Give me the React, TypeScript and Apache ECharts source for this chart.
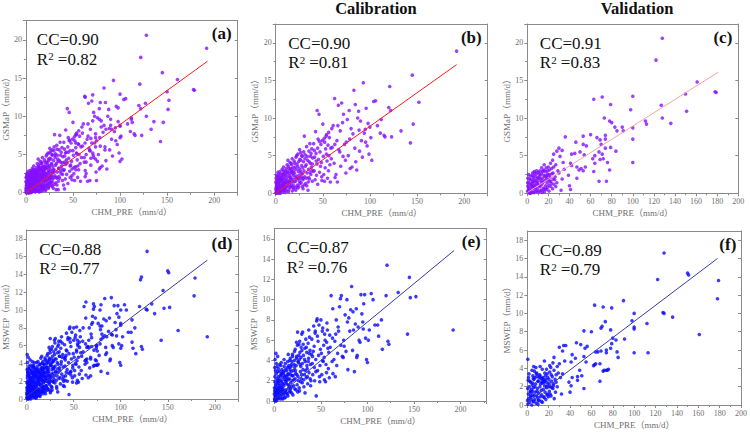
import { useEffect, useRef } from "react";
import * as echarts from "echarts";

// Daily precipitation samples: [CHM_PRE, GSMaP, MSWEP] in mm/d
type Row = [number, number, number];

const calibration: Row[] = [
  [0.3, 0.1, 0.2], [0.5, 0.4, 0.1], [0.8, 0.0, 0.5], [1.0, 0.7, 0.3], [1.2, 1.2, 0.8], [1.5, 0.2, 1.1],
  [1.8, 0.9, 0.0], [2.0, 1.6, 0.6], [2.2, 0.5, 1.4], [2.5, 1.1, 0.9], [2.8, 0.1, 0.4], [3.0, 1.9, 1.7],
  [3.2, 0.8, 2.0], [3.5, 1.4, 0.2], [3.8, 0.3, 1.2], [4.0, 2.2, 0.7], [4.2, 1.0, 1.8], [4.5, 0.6, 2.4],
  [4.8, 1.7, 1.0], [5.0, 0.0, 0.3], [5.2, 2.6, 1.5], [5.5, 1.3, 2.2], [5.8, 0.4, 0.8], [6.0, 1.8, 2.9],
  [0.2, 1.5, 1.3], [0.6, 0.9, 1.9], [1.4, 1.8, 1.6], [2.6, 2.1, 2.2], [3.4, 0.0, 0.9], [0.1, 0.6, 0.7],
  [1.1, 0.3, 0.0], [4.6, 0.2, 1.3], [0.4, 2.0, 1.0], [2.4, 1.3, 0.1],
  [0.7, 1.3, 2.4], [1.3, 0.5, 3.0], [1.6, 2.3, 0.4], [2.1, 0.2, 2.7], [2.9, 1.5, 3.4], [3.3, 2.5, 1.1],
  [3.7, 0.6, 2.9], [4.1, 1.6, 0.5], [4.4, 2.9, 3.2], [4.9, 0.9, 2.0], [5.3, 1.9, 0.6], [5.7, 0.3, 3.6],
  [0.9, 2.4, 4.1], [1.7, 1.0, 4.7], [2.3, 2.8, 3.7], [0.5, 0.0, 3.3], [3.6, 2.0, 4.4],
  [6.3, 0.7, 1.1], [6.6, 2.3, 0.5], [7.0, 1.1, 1.9], [7.3, 0.2, 2.6], [7.6, 1.6, 0.9], [7.9, 3.0, 1.4],
  [8.2, 0.9, 3.1], [8.5, 2.0, 0.3], [8.8, 0.4, 1.7], [9.1, 1.4, 2.3], [9.4, 2.7, 1.2], [9.7, 0.1, 0.6],
  [10.0, 1.8, 2.8], [10.3, 0.6, 1.5], [10.6, 2.4, 3.4], [10.9, 1.2, 0.8], [11.2, 3.3, 2.1], [11.5, 0.3, 1.0],
  [11.8, 1.9, 3.7], [12.0, 2.9, 0.4], [6.9, 1.7, 3.5], [8.0, 2.6, 2.0], [9.0, 0.8, 0.2], [11.0, 1.5, 2.5],
  [6.1, 2.1, 1.6], [6.5, 1.0, 0.2], [6.8, 3.2, 2.5], [7.2, 0.6, 1.3], [7.5, 2.5, 3.8], [7.8, 1.3, 0.7],
  [8.3, 3.5, 2.7], [8.7, 1.1, 1.1], [9.2, 2.2, 0.9], [9.6, 0.5, 2.9], [10.1, 3.0, 1.7], [10.5, 1.4, 4.1],
  [11.1, 2.6, 0.3], [11.6, 0.9, 2.4],
  [12.4, 0.9, 2.0], [12.8, 2.2, 1.1], [13.2, 1.4, 3.0], [13.6, 3.6, 2.4], [14.0, 0.5, 0.7], [14.4, 2.6, 3.9],
  [14.8, 1.7, 1.6], [15.2, 3.1, 2.7], [15.6, 0.8, 1.3], [16.0, 2.0, 3.3], [16.4, 4.0, 2.2], [16.8, 1.2, 0.9],
  [17.2, 2.9, 4.2], [17.6, 0.3, 1.8], [18.0, 1.9, 2.9], [18.4, 3.4, 3.6], [18.8, 2.4, 1.4], [19.2, 1.0, 2.5],
  [19.6, 4.3, 4.4], [20.0, 2.7, 0.6], [13.0, 4.4, 1.7], [15.0, 2.3, 4.6], [17.0, 3.8, 3.1], [19.0, 0.6, 3.9],
  [14.2, 1.1, 2.6], [16.6, 2.8, 1.0],
  [12.1, 3.8, 3.1], [12.6, 1.6, 1.9], [13.1, 2.8, 0.8], [13.5, 0.2, 2.2], [14.1, 3.3, 3.3], [14.6, 1.5, 0.5],
  [15.1, 4.1, 2.1], [15.5, 2.1, 3.5], [16.1, 0.9, 1.5], [16.5, 3.3, 4.0], [17.1, 1.6, 2.6], [17.5, 4.6, 1.2],
  [18.1, 2.6, 3.4], [18.6, 0.8, 0.8], [19.1, 3.0, 2.0], [19.5, 1.5, 4.6],
  [20.5, 3.5, 3.0], [21.0, 1.6, 2.1], [21.5, 4.8, 4.0], [22.0, 2.3, 1.2], [22.5, 3.9, 5.1], [23.0, 1.1, 2.7],
  [23.5, 5.2, 3.5], [24.0, 2.9, 4.4], [24.5, 0.9, 1.6], [25.0, 3.3, 6.8], [25.5, 4.5, 2.4], [26.0, 2.0, 3.8],
  [26.5, 5.4, 5.6], [27.0, 1.4, 1.0], [27.5, 3.7, 4.8], [28.0, 4.9, 2.9], [28.5, 2.6, 3.4], [29.0, 0.6, 2.2],
  [29.5, 4.2, 6.6], [30.0, 3.0, 1.8], [21.8, 0.8, 3.3], [23.8, 2.0, 5.8], [26.8, 2.7, 4.1], [28.8, 1.8, 5.3],
  [25.2, 1.6, 0.9],
  [20.2, 4.0, 2.5], [20.8, 2.1, 1.5], [21.3, 0.4, 3.6], [21.7, 3.2, 4.9], [22.3, 5.0, 2.2], [22.7, 1.9, 3.0],
  [23.3, 3.6, 1.1], [23.7, 0.7, 4.2], [24.3, 4.2, 2.6], [24.8, 2.4, 5.5], [25.4, 5.8, 3.9], [25.8, 1.3, 2.0],
  [26.3, 3.0, 4.5], [26.7, 4.4, 1.3], [27.3, 2.2, 5.9], [27.8, 5.0, 3.6], [28.3, 0.9, 1.9], [28.7, 3.4, 4.3],
  [29.3, 2.0, 2.6], [29.7, 5.5, 5.0],
  [30.4, 7.6, 6.8], [30.8, 2.2, 3.1], [31.3, 5.1, 4.5], [31.8, 1.3, 1.4], [32.3, 3.8, 2.6], [32.8, 6.2, 5.2],
  [33.3, 2.7, 3.9], [33.8, 4.4, 6.1], [34.3, 0.4, 2.3], [34.8, 3.2, 4.8], [35.3, 5.6, 3.2], [35.8, 1.9, 1.7],
  [36.3, 6.6, 5.7], [36.8, 4.0, 4.2], [37.3, 2.5, 2.8], [37.8, 3.5, 6.3], [38.3, 5.9, 5.0], [38.8, 1.6, 3.6],
  [39.3, 4.7, 2.0], [39.8, 2.9, 4.6], [31.0, 4.6, 5.6], [33.0, 1.0, 0.8], [35.0, 2.1, 3.5], [37.0, 4.9, 7.0],
  [39.0, 3.9, 1.5],
  [30.2, 1.1, 3.7], [31.5, 3.6, 2.1], [32.5, 2.0, 4.1], [33.5, 4.9, 3.0], [34.5, 1.5, 5.3], [35.5, 4.2, 2.4],
  [36.5, 2.8, 3.9], [37.5, 5.3, 4.7], [38.5, 3.1, 2.2],
  [40.3, 6.6, 6.1], [40.8, 3.0, 3.7], [41.3, 4.8, 2.6], [41.8, 1.8, 4.9], [42.3, 8.2, 7.4], [42.8, 5.3, 5.4],
  [43.3, 2.4, 2.0], [43.8, 3.9, 6.7], [44.0, 11.0, 6.9], [44.5, 6.0, 4.1], [45.0, 7.2, 0.5], [45.5, 4.5, 7.9],
  [46.0, 10.5, 8.1], [46.5, 2.8, 3.0], [47.0, 5.5, 5.9], [47.5, 3.6, 4.5], [48.0, 6.5, 7.5], [48.5, 4.1, 2.4],
  [49.0, 1.7, 3.5], [49.5, 7.0, 5.1], [41.0, 5.7, 4.4], [43.0, 4.3, 3.3], [46.3, 6.9, 6.4], [48.8, 2.2, 1.9],
  [44.6, 1.2, 2.9],
  [50.0, 9.2, 8.0], [50.5, 4.9, 4.7], [51.0, 2.5, 2.6], [51.5, 7.3, 6.9], [52.0, 6.8, 7.2], [52.5, 3.4, 3.9],
  [53.0, 5.9, 5.5], [53.5, 7.6, 4.3], [54.0, 7.8, 6.6], [54.5, 4.3, 6.0], [55.0, 2.0, 1.9], [55.5, 6.4, 3.6],
  [56.0, 3.0, 2.8], [56.5, 5.0, 7.7], [57.0, 7.4, 7.0], [57.5, 3.8, 5.2], [58.0, 1.5, 3.2], [58.5, 6.0, 4.8],
  [59.0, 4.6, 2.3], [59.5, 8.6, 6.5], [51.8, 1.6, 4.0], [53.8, 5.2, 2.1], [56.2, 8.1, 5.8],
  [60.0, 6.1, 5.3], [61.0, 9.0, 10.4], [62.0, 4.0, 3.9], [62.5, 12.6, 6.2], [63.0, 2.1, 2.7], [64.0, 2.5, 4.1],
  [65.0, 7.0, 5.9], [66.0, 9.0, 6.6], [67.0, 5.8, 3.5], [68.0, 5.5, 4.7], [69.0, 3.6, 6.9], [70.0, 12.0, 9.3],
  [71.0, 9.4, 10.1], [72.0, 10.5, 10.4], [73.0, 6.5, 4.4], [74.0, 4.4, 4.3], [75.0, 6.8, 5.4], [76.0, 9.8, 8.5],
  [77.0, 5.0, 4.9], [78.0, 11.0, 10.0], [78.5, 7.2, 7.8], [79.0, 3.3, 3.1], [65.5, 1.5, 2.4], [68.5, 8.3, 7.3],
  [71.5, 4.9, 5.5], [74.5, 2.7, 6.0], [62.8, 6.5, 9.1], [66.5, 11.7, 8.0],
  [80.0, 8.6, 8.2], [81.0, 3.5, 6.9], [82.0, 7.9, 9.0], [83.0, 13.7, 11.3], [84.0, 6.0, 5.0], [85.0, 4.2, 7.0],
  [86.0, 3.1, 2.9], [87.0, 10.0, 7.6], [88.0, 10.9, 9.1], [89.0, 5.6, 4.5], [90.0, 9.6, 7.3], [91.0, 7.0, 6.0],
  [92.0, 4.8, 5.8], [93.0, 14.7, 10.5], [94.0, 8.0, 8.6], [95.0, 8.5, 7.8], [96.0, 11.3, 9.6], [97.0, 6.3, 10.5],
  [98.0, 9.3, 6.2], [99.0, 5.2, 4.1], [100.0, 8.8, 3.8], [101.0, 7.4, 6.0], [102.0, 4.4, 7.0], [104.0, 12.2, 10.6],
  [106.0, 12.3, 10.0], [108.0, 9.0, 7.5], [84.5, 11.8, 8.8], [88.5, 8.4, 4.3], [95.5, 6.8, 7.1],
  [111.0, 8.0, 7.5], [112.0, 9.8, 6.4], [115.0, 7.7, 8.0], [116.0, 7.5, 5.1], [120.0, 11.4, 10.4],
  [121.0, 14.2, 13.4], [122.0, 11.0, 5.9], [123.0, 7.5, 5.6], [133.0, 8.3, 10.7], [143.0, 6.7, 6.6],
  [145.0, 15.7, 12.2], [146.0, 9.2, 10.2], [152.0, 12.1, 10.3], [192.0, 18.9, 7.0],
];

const validation: Row[] = [
  [128, 20.6, 16.6], [122, 17.7, 13.7], [179, 13.4, 13.6], [178, 13.5, 11.6], [161, 14.8, 7.7],
  [150, 13.2, 14.4], [151, 10.9, 14.2], [127, 11.7, 10.1], [128, 10.0, 10.0], [136, 9.3, 9.6],
  [112, 9.6, 8.9], [113, 9.2, 5.7], [100, 12.9, 10.0], [100, 8.7, 8.3], [100, 7.2, 8.5], [100, 4.1, 5.7],
  [98, 11.1, 9.2], [90, 8.8, 11.4], [71, 12.8, 10.7], [63, 12.5, 10.9], [79, 11.8, 10.6], [73, 10.0, 9.1],
  [78, 9.6, 8.2], [80, 9.4, 7.3], [83, 8.8, 7.1], [85, 8.3, 5.2], [91, 8.3, 7.2], [60, 7.8, 8.0],
  [53, 7.6, 8.1], [66, 7.4, 5.8], [74, 7.7, 6.0], [74, 7.2, 5.7], [36, 7.5, 6.5], [70, 6.5, 8.6],
  [69, 7.1, 8.4], [79, 6.1, 6.7], [84, 5.6, 5.8], [74, 6.0, 3.8], [68, 5.5, 4.5], [71, 5.2, 3.7],
  [64, 5.0, 5.8], [62, 4.6, 4.3], [69, 4.5, 5.9], [72, 4.6, 3.8], [76, 4.1, 3.9], [64, 4.0, 4.5],
  [78, 3.1, 6.2], [75, 1.6, 3.8], [68, 1.6, 2.6], [63, 2.9, 4.4], [55, 3.5, 4.7], [51, 3.3, 3.2],
  [47, 2.0, 3.1], [54, 5.1, 6.2], [56, 6.3, 6.4], [53, 6.5, 5.3], [46, 6.8, 6.8], [50, 5.5, 6.6],
  [45, 5.3, 5.1], [42, 5.2, 5.5], [41, 4.0, 4.7], [42, 3.7, 3.0], [47, 3.5, 2.7], [49, 3.1, 3.8],
  [39, 2.4, 2.5], [40, 1.0, 1.4], [41, 0.5, 2.1], [32, 0.4, 1.2], [33, 1.9, 3.4], [30, 2.7, 4.5],
  [35, 3.2, 4.8], [34, 4.1, 6.5], [33, 5.7, 5.9], [30, 6.0, 6.3], [28, 5.6, 4.2], [31, 4.9, 3.0],
  [25, 5.2, 5.2], [24, 4.4, 4.6], [25, 3.5, 3.8], [21, 3.1, 4.3], [22, 4.0, 4.1], [27, 3.8, 2.5],
  [18, 2.3, 2.0], [18, 3.4, 3.9], [16, 3.8, 4.8], [15, 3.0, 2.4], [12, 2.5, 3.2], [10, 2.1, 2.6],
  [7, 2.7, 3.0], [6, 1.5, 4.2], [53, 3.0, 1.8], [0.5, 2.0, 5.0],
  [0.2, 0.3, 0.5], [0.6, 1.0, 0.1], [1.0, 0.1, 1.2], [1.4, 1.5, 0.7], [1.8, 0.6, 2.0], [2.2, 0.0, 0.3],
  [2.6, 1.2, 1.5], [3.0, 0.4, 2.5], [3.4, 1.8, 0.9], [3.8, 0.9, 1.7], [4.2, 0.2, 0.0], [4.6, 1.4, 2.2],
  [5.0, 0.7, 1.1], [5.4, 2.2, 0.4], [5.8, 0.1, 1.9], [6.2, 1.1, 2.8], [6.6, 2.9, 3.7], [7.0, 0.5, 0.6],
  [7.4, 1.7, 1.4], [7.8, 0.8, 2.3], [8.2, 2.5, 0.2], [8.6, 0.3, 1.0], [9.0, 1.3, 3.1], [9.4, 2.0, 1.8],
  [9.8, 0.6, 0.8], [10.2, 1.6, 2.6], [10.6, 2.8, 1.3], [11.0, 0.2, 0.5], [11.4, 1.0, 3.3], [11.8, 2.3, 2.0],
  [12.2, 0.9, 0.9], [12.6, 1.9, 2.9], [13.0, 0.4, 1.6], [13.4, 2.6, 1.1], [13.8, 1.2, 2.4], [14.2, 0.1, 0.3],
  [14.6, 2.0, 3.0], [15.0, 1.5, 1.7], [15.4, 0.7, 2.7], [15.8, 2.4, 0.8], [16.2, 0.2, 2.1], [16.6, 1.7, 1.4],
  [17.0, 2.9, 3.2], [17.4, 1.0, 0.6], [17.8, 2.2, 2.5], [18.2, 0.5, 1.9], [18.6, 1.4, 3.4], [19.0, 2.6, 1.2],
  [19.4, 0.8, 2.2], [19.8, 1.8, 0.9], [20.2, 2.4, 2.8], [20.6, 0.3, 1.5], [21.0, 1.6, 3.6], [21.6, 2.1, 2.0],
  [22.2, 0.9, 1.0], [22.8, 1.3, 2.6], [23.4, 2.6, 3.1], [24.0, 0.6, 1.8], [24.6, 1.9, 2.3], [25.2, 1.2, 0.7],
  [1.2, 2.5, 3.0], [2.8, 2.3, 1.0], [4.4, 1.0, 3.8], [6.0, 1.9, 0.4], [8.0, 1.1, 4.1], [0.9, 0.8, 2.7],
  [3.2, 0.0, 1.4], [5.2, 1.6, 3.2], [12.0, 3.0, 4.2], [14.0, 1.4, 3.9], [16.0, 3.1, 2.6], [10.0, 2.7, 0.1],
  [20.0, 3.5, 2.0], [26.0, 1.8, 2.8], [27.0, 0.9, 3.3], [23.0, 3.3, 1.9],
  [0.4, 1.4, 1.8], [1.6, 0.4, 3.4], [2.4, 1.9, 2.6], [3.6, 1.2, 0.6], [4.8, 2.4, 1.5], [5.6, 0.9, 2.9],
  [6.4, 0.1, 1.0], [7.2, 2.2, 2.0], [8.4, 1.6, 3.4], [9.2, 0.2, 1.5], [10.4, 1.2, 0.5], [11.2, 2.0, 3.0],
  [12.4, 0.3, 2.3], [13.2, 1.6, 0.4], [14.4, 2.9, 2.9], [15.2, 0.5, 0.9], [16.4, 2.3, 3.5], [17.2, 0.6, 2.8],
  [18.4, 1.9, 1.1], [19.2, 3.0, 3.0], [20.4, 1.1, 2.4], [21.4, 2.5, 1.2], [22.4, 1.6, 3.3], [24.4, 2.7, 2.1],
  [26.4, 2.2, 1.4], [28.0, 1.4, 2.0], [29.0, 3.0, 3.5], [13.6, 3.4, 2.6], [8.8, 3.0, 3.5], [5.0, 2.7, 2.4],
];

const panelLabels = ["(a)", "(b)", "(c)", "(d)", "(e)", "(f)"];
const ccValues = ["0.90", "0.90", "0.91", "0.88", "0.87", "0.89"];
const r2Values = ["0.82", "0.81", "0.83", "0.77", "0.76", "0.79"];
// regression line end points per panel: [x0, y0, x1, y1]
const fitLines: [number, number, number, number][] = [
  [0, 0, 193, 17.2],
  [0, 0, 192, 17.1],
  [0, 0.1, 181, 16.1],
  [0, 0.3, 192, 15.6],
  [0, 0.2, 193, 14.85],
  [0, 0.3, 178, 16.0],
];
const columnTitles = ["Calibration", "Validation"];

const allRows = [...calibration, ...validation];

const VIOLET = "#8410ff";
const BLUE = "#0a0aff";
const AXIS = "#8a8a8a";
const LABEL = "#6e6e6e";
const SERIF = '"Liberation Serif", "Noto Sans CJK SC", serif';

type Panel = {
  left: number; top: number; width: number; height: number;
  xMax: number; xStep: number; yMax: number; yStep: number; yMinor: boolean;
  rows: Row[]; col: 1 | 2; name: string; color: string; lineColor: string; nameGap: number;
};

const panels: Panel[] = [
  { left: 24.3, top: 20.7, width: 213.4, height: 172, xMax: 225, xStep: 50, yMax: 22.5, yStep: 5, yMinor: true,
    rows: allRows, col: 1, name: "GSMaP（mm/d）", color: VIOLET, lineColor: "#ff1a1a", nameGap: 10 },
  { left: 275.7, top: 24, width: 212, height: 169.3, xMax: 225, xStep: 50, yMax: 22.5, yStep: 5, yMinor: true,
    rows: calibration, col: 1, name: "GSMaP（mm/d）", color: VIOLET, lineColor: "#ff1a1a", nameGap: 10 },
  { left: 527.3, top: 24, width: 211, height: 169.3, xMax: 200, xStep: 20, yMax: 22.5, yStep: 5, yMinor: true,
    rows: validation, col: 1, name: "GSMaP（mm/d）", color: VIOLET, lineColor: "#f6a4a4", nameGap: 10 },
  { left: 26.7, top: 230, width: 211.6, height: 169, xMax: 225, xStep: 50, yMax: 19, yStep: 2, yMinor: false,
    rows: allRows, col: 2, name: "MSWEP（mm/d）", color: BLUE, lineColor: "#3a3aa6", nameGap: 12 },
  { left: 274.3, top: 228.7, width: 212.4, height: 172.3, xMax: 228, xStep: 50, yMax: 17, yStep: 2, yMinor: false,
    rows: calibration, col: 2, name: "MSWEP（mm/d）", color: BLUE, lineColor: "#3a3aa6", nameGap: 12 },
  { left: 527.3, top: 231, width: 215, height: 174, xMax: 200, xStep: 20, yMax: 19, yStep: 2, yMinor: false,
    rows: validation, col: 2, name: "MSWEP（mm/d）", color: BLUE, lineColor: "#3a3aa6", nameGap: 12 },
];

function buildOption(): echarts.EChartsOption {
  const grid: any[] = [];
  const xAxis: any[] = [];
  const yAxis: any[] = [];
  const series: any[] = [];
  const graphic: any[] = [];

  panels.forEach((p, i) => {
    grid.push({ left: p.left, top: p.top, width: p.width, height: p.height, containLabel: false });
    const line = { show: true, onZero: false, lineStyle: { color: AXIS, width: 1 } };
    const labelStyle = { fontSize: 8, color: LABEL, fontFamily: SERIF };
    xAxis.push({
      gridIndex: i, type: "value", min: 0, max: p.xMax, interval: p.xStep, position: "bottom",
      axisLine: line,
      axisTick: { show: true, length: 3, lineStyle: { color: AXIS } },
      minorTick: { show: true, splitNumber: 2, length: 2, lineStyle: { color: AXIS } },
      splitLine: { show: false },
      axisLabel: { ...labelStyle, margin: 4, showMaxLabel: p.xMax % p.xStep === 0 },
      name: "CHM_PRE（mm/d）", nameLocation: "middle", nameGap: 15,
      nameTextStyle: { fontSize: 9, color: LABEL, fontFamily: SERIF },
    });
    xAxis.push({
      gridIndex: i, type: "value", min: 0, max: p.xMax, position: "top",
      axisLine: line, axisTick: { show: false }, axisLabel: { show: false }, splitLine: { show: false },
    });
    yAxis.push({
      gridIndex: i, type: "value", min: 0, max: p.yMax, interval: p.yStep, position: "left",
      axisLine: line,
      axisTick: { show: true, length: 3, lineStyle: { color: AXIS } },
      minorTick: { show: p.yMinor, splitNumber: 2, length: 2, lineStyle: { color: AXIS } },
      splitLine: { show: false },
      axisLabel: { ...labelStyle, margin: 4, showMaxLabel: false },
      name: p.name, nameLocation: "middle", nameGap: p.nameGap,
      nameTextStyle: { fontSize: 9, color: LABEL, fontFamily: SERIF },
    });
    yAxis.push({
      gridIndex: i, type: "value", min: 0, max: p.yMax, interval: p.yStep, position: "right",
      axisLine: line,
      axisTick: { show: true, inside: true, length: 3, lineStyle: { color: AXIS } },
      minorTick: { show: false },
      splitLine: { show: false }, axisLabel: { show: false },
    });

    series.push({
      type: "scatter", xAxisIndex: 2 * i, yAxisIndex: 2 * i, silent: true,
      symbol: "circle", symbolSize: 3.6,
      itemStyle: { color: p.color },
      data: p.rows.map((r) => [r[0], r[p.col]]),
    });
    const f = fitLines[i];
    series.push({
      type: "line", xAxisIndex: 2 * i, yAxisIndex: 2 * i, silent: true, symbol: "none",
      lineStyle: { color: p.lineColor, width: 1 }, z: 3,
      data: [[f[0], f[1]], [f[2], f[3]]],
    });

    const tx = p.left + 12.5;
    graphic.push({
      type: "text", x: tx, y: p.top + 10.5,
      style: { text: `CC=${ccValues[i]}`, fontSize: 17, fontFamily: SERIF, fill: "#111", verticalAlign: "top" },
    });
    graphic.push({
      type: "text", x: tx, y: p.top + 30,
      style: { text: "R", fontSize: 17, fontFamily: SERIF, fill: "#111", verticalAlign: "top" },
    });
    graphic.push({
      type: "text", x: tx + 11.5, y: p.top + 30,
      style: { text: "2", fontSize: 11, fontFamily: SERIF, fill: "#111", verticalAlign: "top" },
    });
    graphic.push({
      type: "text", x: tx + 21, y: p.top + 30,
      style: { text: `=${r2Values[i]}`, fontSize: 17, fontFamily: SERIF, fill: "#111", verticalAlign: "top" },
    });
    graphic.push({
      type: "text", x: p.left + p.width - 6, y: p.top + 4.5,
      style: {
        text: panelLabels[i], fontSize: 17, fontWeight: "bold", fontFamily: SERIF, fill: "#111",
        align: "right", verticalAlign: "top",
      },
    });
  });

  graphic.push({
    type: "text", x: 376, y: 0,
    style: { text: columnTitles[0], fontSize: 16.5, fontWeight: "bold", fontFamily: SERIF, fill: "#111", align: "center", verticalAlign: "top" },
  });
  graphic.push({
    type: "text", x: 637, y: 0,
    style: { text: columnTitles[1], fontSize: 16.5, fontWeight: "bold", fontFamily: SERIF, fill: "#111", align: "center", verticalAlign: "top" },
  });

  return { animation: false, backgroundColor: "#ffffff", grid, xAxis, yAxis, series, graphic };
}

export default function App() {
  const ref = useRef<HTMLDivElement>(null);
  useEffect(() => {
    if (!ref.current) return;
    const chart = echarts.init(ref.current, undefined, { renderer: "svg" });
    chart.setOption(buildOption());
    return () => chart.dispose();
  }, []);
  return (
    <div
      ref={ref}
      style={{ position: "absolute", left: 0, top: 0, width: 750, height: 432, background: "#fff" }}
    />
  );
}
